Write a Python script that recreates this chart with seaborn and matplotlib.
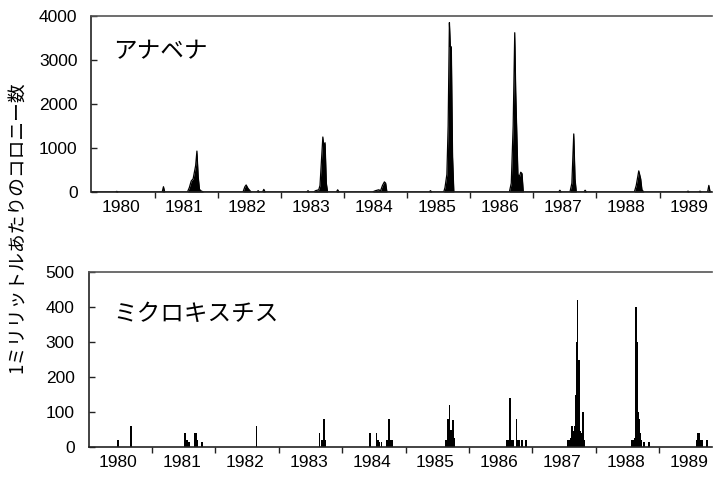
import matplotlib
matplotlib.use("Agg")
import matplotlib.pyplot as plt
import seaborn as sns
import pandas as pd

# ---- data ----
year_labels = [str(y) for y in range(1980, 1990)]
year_starts = list(range(1981, 1990))

ana_year = [1980.00,
            1980.38, 1980.40, 1980.42,
            1981.12, 1981.14, 1981.16,
            1981.52, 1981.55, 1981.58, 1981.61, 1981.63, 1981.65, 1981.67, 1981.69, 1981.71, 1981.74, 1981.78,
            1982.40, 1982.43, 1982.45, 1982.48, 1982.51, 1982.53,
            1982.62, 1982.64, 1982.66,
            1982.71, 1982.73, 1982.75,
            1983.41, 1983.43, 1983.45,
            1983.52, 1983.55, 1983.60, 1983.62, 1983.665, 1983.68, 1983.70, 1983.72, 1983.74,
            1983.88, 1983.90, 1983.92,
            1984.45, 1984.50, 1984.55, 1984.58, 1984.61, 1984.64, 1984.66, 1984.68,
            1985.35, 1985.37, 1985.39,
            1985.58, 1985.60, 1985.63, 1985.65, 1985.67, 1985.685, 1985.70, 1985.72, 1985.74,
            1986.62, 1986.65, 1986.68, 1986.705, 1986.72, 1986.74, 1986.755, 1986.78, 1986.80, 1986.82, 1986.84,
            1987.40, 1987.42, 1987.44,
            1987.58, 1987.61, 1987.64, 1987.66, 1987.68,
            1987.80, 1987.82, 1987.84,
            1988.60, 1988.63, 1988.67, 1988.70, 1988.72, 1988.75,
            1989.43, 1989.45, 1989.47,
            1989.62, 1989.64, 1989.66,
            1989.76, 1989.78, 1989.80, 1989.83]
ana_count = [0,
             0, 15, 0,
             0, 120, 0,
             0, 100, 250, 300, 450, 600, 930, 350, 60, 20, 0,
             0, 120, 160, 80, 30, 0,
             0, 30, 0,
             0, 60, 0,
             0, 30, 0,
             0, 30, 50, 150, 1250, 1050, 1120, 200, 0,
             0, 50, 0,
             0, 30, 50, 30, 150, 230, 200, 0,
             0, 30, 0,
             0, 100, 400, 1500, 3850, 3300, 3300, 800, 0,
             0, 200, 1500, 3620, 2300, 1200, 400, 350, 450, 420, 0,
             0, 40, 0,
             0, 200, 1320, 300, 0,
             0, 40, 0,
             0, 150, 480, 300, 50, 0,
             0, 20, 0,
             0, 20, 0,
             0, 150, 0, 0]

mic_year = [1980.47, 1980.67,
            1981.52, 1981.54, 1981.56, 1981.58, 1981.67, 1981.69, 1981.70, 1981.72, 1981.79,
            1982.65,
            1983.64, 1983.68, 1983.71, 1983.73,
            1984.44, 1984.54, 1984.56, 1984.59, 1984.62, 1984.70, 1984.72, 1984.74, 1984.76, 1984.78,
            1985.64, 1985.66, 1985.68, 1985.69, 1985.71, 1985.73, 1985.75, 1985.77,
            1986.59, 1986.61, 1986.63, 1986.65, 1986.67, 1986.69, 1986.75, 1986.77, 1986.79, 1986.84, 1986.90,
            1987.56, 1987.58, 1987.60, 1987.62, 1987.64, 1987.66, 1987.68, 1987.70, 1987.71, 1987.73,
            1987.75, 1987.77, 1987.79, 1987.80, 1987.82,
            1988.57, 1988.59, 1988.61, 1988.63, 1988.645, 1988.66, 1988.68, 1988.70, 1988.72, 1988.76, 1988.84,
            1989.59, 1989.61, 1989.63, 1989.65, 1989.67, 1989.75]
mic_count = [20, 60,
             40, 20, 20, 15, 40, 25, 40, 20, 15,
             60,
             40, 20, 80, 20,
             40, 40, 20, 15, 15, 20, 20, 80, 20, 20,
             20, 80, 80, 120, 50, 25, 78, 25,
             20, 20, 20, 140, 20, 20, 80, 20, 20, 20, 20,
             20, 20, 25, 60, 45, 60, 150, 300, 420, 250,
             45, 40, 60, 100, 20,
             20, 20, 25, 400, 300, 100, 80, 40, 20, 15, 15,
             20, 40, 40, 20, 20, 20]

ana_ticks = [0, 1000, 2000, 3000, 4000]
mic_ticks = [0, 100, 200, 300, 400, 500]

ana_label = "アナベナ"
mic_label = "ミクロキスチス"
y_label = "1ミリリットルあたりのコロニー数"

# ---- style ----
sns.set_theme(style="white")
plt.rcParams["font.family"] = ["Liberation Sans", "Noto Sans CJK JP"]
CJK = ["Noto Sans CJK JP", "DejaVu Sans"]

W, H = 714, 478
fig = plt.figure(figsize=(W / 100, H / 100), dpi=100)
ax1 = fig.add_axes([91.5 / W, 1 - 192 / H, (712 - 91.5) / W, 176 / H])
ax2 = fig.add_axes([88.5 / W, 1 - 447 / H, (712 - 88.5) / W, 175 / H])

ana = pd.DataFrame({"year": ana_year, "count": ana_count})
sns.lineplot(data=ana, x="year", y="count", color="black", linewidth=0.9, ax=ax1)
ax1.fill_between(ana["year"], ana["count"], color="black", linewidth=0)

ax2.bar(mic_year, mic_count, width=0.027, color="black", linewidth=0, align="center")

xmin, xmax = 1980.0, 1989.83
for ax, ticks, lab, tx, ty in [(ax1, ana_ticks, ana_label, 0.035, 0.795),
                               (ax2, mic_ticks, mic_label, 0.040, 0.76)]:
    ax.set_xlim(xmin, xmax)
    ax.set_ylim(ticks[0], ticks[-1])
    ax.set_yticks(ticks)
    ax.set_yticklabels([str(t) for t in ticks])
    ax.set_xticks(year_starts)
    ax.set_xticklabels([])
    ax.set_xticks([y + 0.47 for y in range(1980, 1990)], minor=True)
    ax.set_xticklabels(year_labels, minor=True)
    ax.tick_params(axis="x", which="major", direction="out", length=4, width=1, color="#222222")
    ax.tick_params(axis="x", which="minor", length=0, pad=6, labelsize=12.5, labelcolor="black")
    ax.tick_params(axis="y", which="major", direction="in", length=4, width=1, color="#222222",
                   pad=10, labelsize=12.5, labelcolor="black")
    ax.tick_params(left=True, bottom=True)
    ax.set_xlabel("")
    ax.set_ylabel("")
    for s in ["left", "bottom", "top"]:
        ax.spines[s].set_visible(True)
        ax.spines[s].set_color("#222222")
        ax.spines[s].set_linewidth(1.2)
    ax.spines["top"].set_color("#555555")
    ax.spines["right"].set_visible(False)
    ax.text(tx, ty, lab, transform=ax.transAxes, ha="left", va="center",
            fontsize=17, family=CJK, color="black")

fig.text(17 / W, 1 - 227 / H, y_label, rotation=90, ha="center", va="center",
         fontsize=13.5, family=CJK, color="black")

fig.savefig("out.png", dpi=100, facecolor="white")
